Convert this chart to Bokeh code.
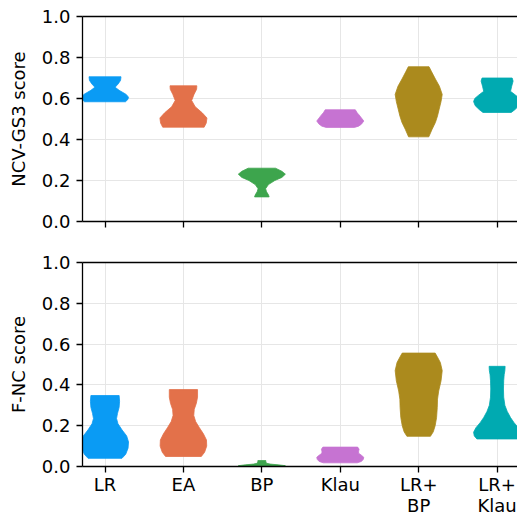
from bokeh.plotting import figure
from bokeh.models import Range1d, FixedTicker, LinearAxis
from bokeh.layouts import column
from bokeh.embed import file_html
from bokeh.resources import INLINE

# ---------------- data ----------------
categories = ["LR", "EA", "BP", "Klau", "LR+\nBP", "LR+\nKlau"]
colors = ["#0A9BF4", "#E3714A", "#3DA54D", "#C673D2", "#AB8A1D", "#00AAB1"]
y_ticks = [0.0, 0.2, 0.4, 0.6, 0.8, 1.0]

# NCV-GS3 score: violin profiles (score levels, relative density width)
ncv_lr_y = [0.584, 0.595, 0.606, 0.62, 0.64, 0.655, 0.67, 0.688, 0.706]
ncv_lr_w = [0.87, 0.97, 1.0, 0.9, 0.6, 0.43, 0.55, 0.66, 0.68]
ncv_ea_y = [0.46, 0.48, 0.505, 0.53, 0.56, 0.59, 0.62, 0.645, 0.662]
ncv_ea_w = [0.88, 0.97, 1.0, 0.8, 0.5, 0.35, 0.45, 0.56, 0.57]
ncv_bp_y = [0.12, 0.13, 0.145, 0.16, 0.18, 0.2, 0.215, 0.231, 0.245, 0.26]
ncv_bp_w = [0.31, 0.28, 0.2, 0.16, 0.28, 0.55, 0.85, 1.0, 0.85, 0.58]
ncv_klau_y = [0.459, 0.465, 0.475, 0.49, 0.505, 0.52, 0.53, 0.545]
ncv_klau_w = [0.6, 0.78, 0.9, 1.0, 0.9, 0.8, 0.72, 0.64]
ncv_lrbp_y = [0.413, 0.45, 0.483, 0.515, 0.548, 0.585, 0.62, 0.66, 0.695, 0.73, 0.755]
ncv_lrbp_w = [0.43, 0.57, 0.71, 0.8, 0.87, 0.95, 1.0, 0.88, 0.71, 0.55, 0.44]
ncv_lrklau_y = [0.532, 0.545, 0.565, 0.585, 0.6, 0.615, 0.635, 0.66, 0.685, 0.7]
ncv_lrklau_w = [0.6, 0.75, 0.93, 1.0, 0.95, 0.8, 0.57, 0.62, 0.68, 0.64]

# F-NC score: violin profiles
fnc_lr_y = [0.04, 0.06, 0.09, 0.12, 0.15, 0.18, 0.21, 0.235, 0.26, 0.29, 0.32, 0.348]
fnc_lr_w = [0.72, 0.88, 0.98, 1.0, 0.92, 0.72, 0.55, 0.49, 0.53, 0.6, 0.62, 0.6]
fnc_ea_y = [0.049, 0.07, 0.1, 0.13, 0.16, 0.19, 0.22, 0.25, 0.28, 0.31, 0.34, 0.377]
fnc_ea_w = [0.76, 0.9, 0.99, 0.98, 0.85, 0.68, 0.52, 0.44, 0.46, 0.55, 0.6, 0.6]
fnc_bp_y = [0.0, 0.004, 0.008, 0.012, 0.016, 0.022, 0.029]
fnc_bp_w = [0.9, 1.0, 0.7, 0.35, 0.2, 0.17, 0.17]
fnc_klau_y = [0.018, 0.025, 0.035, 0.045, 0.055, 0.065, 0.075, 0.085, 0.095]
fnc_klau_w = [0.72, 0.9, 0.98, 1.0, 0.9, 0.78, 0.78, 0.8, 0.74]
fnc_lrbp_y = [0.148, 0.17, 0.2, 0.24, 0.29, 0.33, 0.37, 0.42, 0.47, 0.51, 0.54, 0.556]
fnc_lrbp_w = [0.5, 0.62, 0.7, 0.76, 0.79, 0.8, 0.85, 0.95, 1.0, 0.92, 0.78, 0.7]
fnc_lrklau_y = [0.135, 0.15, 0.168, 0.19, 0.215, 0.24, 0.27, 0.3, 0.34, 0.38, 0.42, 0.45, 0.47, 0.491]
fnc_lrklau_w = [0.86, 0.97, 1.0, 0.9, 0.72, 0.57, 0.43, 0.33, 0.28, 0.27, 0.28, 0.3, 0.33, 0.34]

ncv_profiles = [(ncv_lr_y, ncv_lr_w), (ncv_ea_y, ncv_ea_w), (ncv_bp_y, ncv_bp_w),
                (ncv_klau_y, ncv_klau_w), (ncv_lrbp_y, ncv_lrbp_w), (ncv_lrklau_y, ncv_lrklau_w)]
fnc_profiles = [(fnc_lr_y, fnc_lr_w), (fnc_ea_y, fnc_ea_w), (fnc_bp_y, fnc_bp_w),
                (fnc_klau_y, fnc_klau_w), (fnc_lrbp_y, fnc_lrbp_w), (fnc_lrklau_y, fnc_lrklau_w)]

# ---------------- styling ----------------
FONT = "DejaVu Sans"
FS = "18px"
HALF = 0.30  # half of the maximal violin width, in category units
W = 517

x_range = Range1d(-0.287, 5.26)


def style(p, ylabel, show_xlabels):
    p.outline_line_color = None
    p.background_fill_color = "white"
    p.border_fill_color = "white"
    p.grid.grid_line_color = "#e6e6e6"
    p.grid.grid_line_width = 1
    p.xgrid.ticker = FixedTicker(ticks=list(range(len(categories))))
    p.ygrid.ticker = FixedTicker(ticks=y_ticks)

    ya = p.yaxis[0]
    ya.ticker = FixedTicker(ticks=y_ticks)
    ya.major_label_overrides = {t: f"{t:.1f}" for t in y_ticks}
    ya.axis_label = ylabel
    xa = p.xaxis[0]
    xa.ticker = FixedTicker(ticks=list(range(len(categories))))
    if show_xlabels:
        xa.major_label_overrides = {i: c for i, c in enumerate(categories)}
    else:
        xa.major_label_overrides = {i: "" for i in range(len(categories))}
    for ax in (xa, ya):
        ax.axis_line_color = "black"
        ax.axis_line_width = 1.3
        ax.major_tick_line_color = "black"
        ax.major_tick_line_width = 1.3
        ax.major_tick_out = 6
        ax.major_tick_in = 0
        ax.minor_tick_line_color = None
        ax.major_label_text_font = FONT
        ax.major_label_text_font_size = FS
        ax.major_label_text_color = "black"
        ax.axis_label_text_font = FONT
        ax.axis_label_text_font_size = FS
        ax.axis_label_text_font_style = "normal"
        ax.axis_label_text_color = "black"
    ya.major_label_standoff = 6
    ya.axis_label_standoff = 10
    xa.major_label_standoff = 1
    xa.major_label_text_line_height = 1.0
    if not show_xlabels:
        xa.major_label_standoff = 0

    top = LinearAxis(ticker=FixedTicker(ticks=[]), axis_line_color="black",
                     axis_line_width=1.3, major_tick_line_color=None,
                     minor_tick_line_color=None, major_label_standoff=0)
    p.add_layout(top, "above")


def draw(p, profiles):
    for i, ((ys, ws), col) in enumerate(zip(profiles, colors)):
        xs = [i + w * HALF for w in ws] + [i - w * HALF for w in reversed(ws)]
        yy = list(ys) + list(reversed(ys))
        p.patch(xs, yy, fill_color=col, line_color=col, line_width=0.8)


p1 = figure(width=W, height=241, x_range=x_range, y_range=Range1d(0, 1.0),
            output_backend="svg", toolbar_location=None,
            min_border_left=82, min_border_right=0, min_border_top=16, min_border_bottom=20)
style(p1, "NCV-GS3 score", False)
draw(p1, ncv_profiles)

p2 = figure(width=W, height=277, x_range=x_range, y_range=Range1d(0, 1.0),
            output_backend="svg", toolbar_location=None,
            min_border_left=82, min_border_right=0, min_border_top=21, min_border_bottom=52)
style(p2, "F-NC score", True)
draw(p2, fnc_profiles)

layout = column(p1, p2, spacing=0)
open("out.html", "w").write(file_html(layout, INLINE))
